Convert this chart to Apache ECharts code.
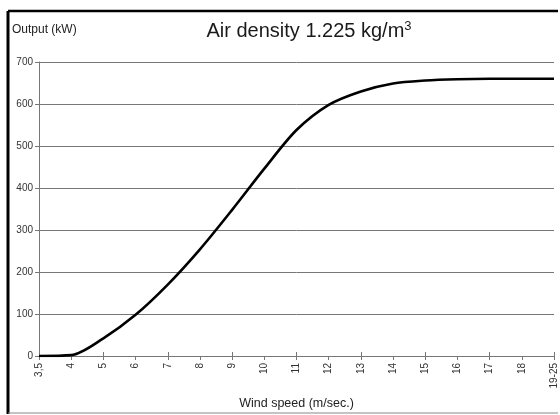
<!DOCTYPE html>
<html>
<head>
<meta charset="utf-8">
<script src="https://cdn.jsdelivr.net/npm/echarts@6/dist/echarts.min.js"></script>
<style>
html,body{margin:0;padding:0;background:#fff;}
#c{width:560px;height:415px;}
</style>
</head>
<body>
<div id="c"></div>
<script>
const categories = ['3,5','4','5','6','7','8','9','10','11','12','13','14','15','16','17','18','19-25'];
const outputKW = [0, 2, 42, 98, 170, 254, 348, 446, 538, 598, 630, 649, 656, 659, 660, 660, 660];
const yTicks = {min: 0, max: 700, interval: 100};

const chart = echarts.init(document.getElementById('c'));
const font = 'Liberation Sans, Arial, sans-serif';
chart.setOption({
  animation: false,
  backgroundColor: '#fff',
  textStyle: {fontFamily: font},
  title: {
    text: 'Air density 1.225 kg/m{sup|3}',
    left: 304, top: 15, textAlign: 'center',
    textStyle: {
      fontFamily: font, fontSize: 20, fontWeight: 'normal', color: '#1a1a1a',
      rich: {sup: {fontSize: 13, verticalAlign: 'top', padding: [0,0,9,0], color: '#1a1a1a', fontFamily: font}}
    }
  },
  graphic: [
    {type: 'line', shape: {x1: 8, y1: 11, x2: 558, y2: 11}, style: {stroke: '#000', lineWidth: 2.5}},
    {type: 'line', shape: {x1: 8, y1: 11, x2: 8, y2: 414}, style: {stroke: '#000', lineWidth: 3}},
    {type: 'line', shape: {x1: 8, y1: 413, x2: 558, y2: 413}, style: {stroke: '#888', lineWidth: 1}},
    {type: 'text', left: 12, top: 24, style: {text: 'Output (kW)', fontSize: 12, fill: '#222', fontFamily: font}}
  ],
  grid: {left: 39, right: 6, top: 62, bottom: 55, containLabel: false},
  xAxis: [{
    type: 'category', data: categories, boundaryGap: false,
    name: 'Wind speed (m/sec.)', nameLocation: 'middle', nameGap: 41,
    nameTextStyle: {fontSize: 12.5, color: '#222', fontFamily: font},
    axisLine: {lineStyle: {color: '#777', width: 1}},
    axisTick: {show: true, alignWithLabel: true, length: 4, lineStyle: {color: '#777'}},
    axisLabel: {rotate: 90, fontSize: 10, color: '#333', margin: 7, interval: 0, fontFamily: font},
    splitLine: {show: false}
  }, {
    type: 'category', data: categories, boundaryGap: false, position: 'bottom',
    axisLine: {show: false},
    axisTick: {show: true, inside: true, length: 4, lineStyle: {color: '#777'}},
    axisLabel: {show: false}, splitLine: {show: false}
  }],
  yAxis: {
    type: 'value', min: yTicks.min, max: yTicks.max, interval: yTicks.interval,
    axisLine: {show: true, lineStyle: {color: '#777', width: 1}},
    axisTick: {show: true, length: 4, lineStyle: {color: '#777'}},
    axisLabel: {fontSize: 10, color: '#333', margin: 6, fontFamily: font},
    splitLine: {show: true, lineStyle: {color: '#777', width: 1}}
  },
  series: [{
    type: 'line', data: outputKW, smooth: 0.3, symbol: 'none',
    lineStyle: {color: '#000', width: 2.6}
  }]
});
</script>
</body>
</html>
